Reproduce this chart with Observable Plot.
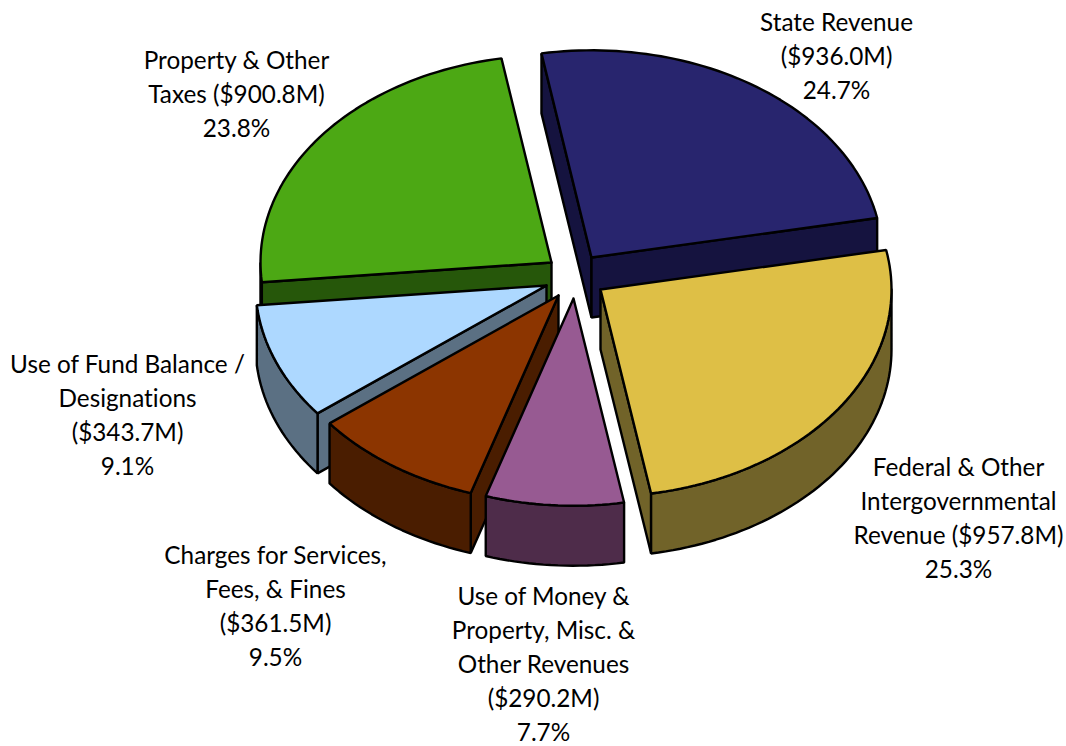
<!DOCTYPE html>
<html>
<head>
<meta charset="utf-8">
<script src="https://cdn.jsdelivr.net/npm/d3@7"></script>
<script src="https://cdn.jsdelivr.net/npm/@observablehq/plot@0.6"></script>
<style>html,body{margin:0;padding:0;background:#fff}svg{display:block}svg text{font-variant-ligatures:none}</style>
</head>
<body>
<div id="chart"></div>
<script>
// Data, clockwise from the State Revenue slice
const categories = ["State Revenue","Federal & Other Intergovernmental Revenue","Use of Money & Property, Misc. & Other Revenues","Charges for Services, Fees, & Fines","Use of Fund Balance / Designations","Property & Other Taxes"];
const amounts = [936.0, 957.8, 290.2, 361.5, 343.7, 900.8];
const labelTexts = [
  "State Revenue\n($936.0M)\n24.7%",
  "Federal & Other\nIntergovernmental\nRevenue ($957.8M)\n25.3%",
  "Use of Money &\nProperty, Misc. &\nOther Revenues\n($290.2M)\n7.7%",
  "Charges for Services,\nFees, & Fines\n($361.5M)\n9.5%",
  "Use of Fund Balance /\nDesignations\n($343.7M)\n9.1%",
  "Property & Other\nTaxes ($900.8M)\n23.8%"
];
const topColors  = ["#28256E","#DEBF46","#975A92","#8C3500","#ADD8FF","#4CA814"];
const wallColors = ["#15133F","#716329","#4E2C4A","#4A1D00","#5B7083","#26570A"];

// Pie layout
const radius = 291, squash = 0.712, depth = 60, firstAngle = -9.9;
const apexX = [591, 600, 573, 558, 546, 551];
const apexY = [257, 289, 298, 295, 285, 262];
const labelX = [836, 958, 543, 275, 127, 236];
const labelY = [54, 516, 662, 604, 413, 92];
const drawOrder = [0, 5, 4, 3, 2, 1];

const total = d3.sum(amounts);
const rad = d => d * Math.PI / 180;
let cum = firstAngle;
const slices = amounts.map((v, i) => {
  const a0 = cum; cum += v / total * 360;
  return {i, a0, a1: cum};
});
const rim = (i, a) => [apexX[i] + radius * Math.sin(rad(a)), apexY[i] - radius * squash * Math.cos(rad(a))];
const arc = (i, a0, a1) => {
  const n = Math.max(2, Math.ceil((a1 - a0) / 1.5));
  return d3.range(n + 1).map(k => rim(i, a0 + (a1 - a0) * k / n));
};
const down = ([x, y]) => [x, y + depth];

const rows = [];
const poly = (id, pts, fill, cat) => {
  [...pts, pts[0]].forEach(([x, y]) => rows.push({id, x, y, fill, cat}));
};
for (const oi of drawOrder) {
  const {i, a0, a1} = slices[oi];
  const c = categories[i], w = wallColors[i];
  const apex = [apexX[i], apexY[i]];
  // A cut face is only seen when it turns towards the viewer
  if (Math.sin(rad(a0)) < 0) {
    const p = rim(i, a0);
    poly(`${i}-s`, [apex, p, down(p), down(apex)], w, c);
  }
  if (Math.sin(rad(a1)) > 0) {
    const p = rim(i, a1);
    poly(`${i}-e`, [apex, p, down(p), down(apex)], w, c);
  }
  const f0 = Math.max(a0, 90), f1 = Math.min(a1, 270);
  if (f1 > f0) {
    const front = arc(i, f0, f1);
    poly(`${i}-o`, [...front, ...front.slice().reverse().map(down)], w, c);
  }
  poly(`${i}-t`, [apex, ...arc(i, a0, a1)], topColors[i], c);
}

const labels = labelTexts.map((text, i) => ({text, x: labelX[i], y: labelY[i]}));

const chart = Plot.plot({
  width: 1066, height: 746,
  margin: 0,
  x: {domain: [0, 1066], range: [0, 1066], axis: null},
  y: {domain: [0, 746], range: [0, 746], axis: null},
  color: {type: "identity"},
  style: {background: "#fff"},
  marks: [
    Plot.line(rows, {x: "x", y: "y", z: "id", fill: "fill", stroke: "#000", strokeWidth: 2.4, strokeLinejoin: "miter", curve: "linear"}),
    Plot.text(labels, {x: "x", y: "y", text: "text", textAnchor: "middle", lineAnchor: "middle", lineHeight: 1.4, fontSize: 24.3, fontFamily: "Lato", fill: "#000"})
  ]
});
document.getElementById("chart").appendChild(chart);
</script>
</body>
</html>
